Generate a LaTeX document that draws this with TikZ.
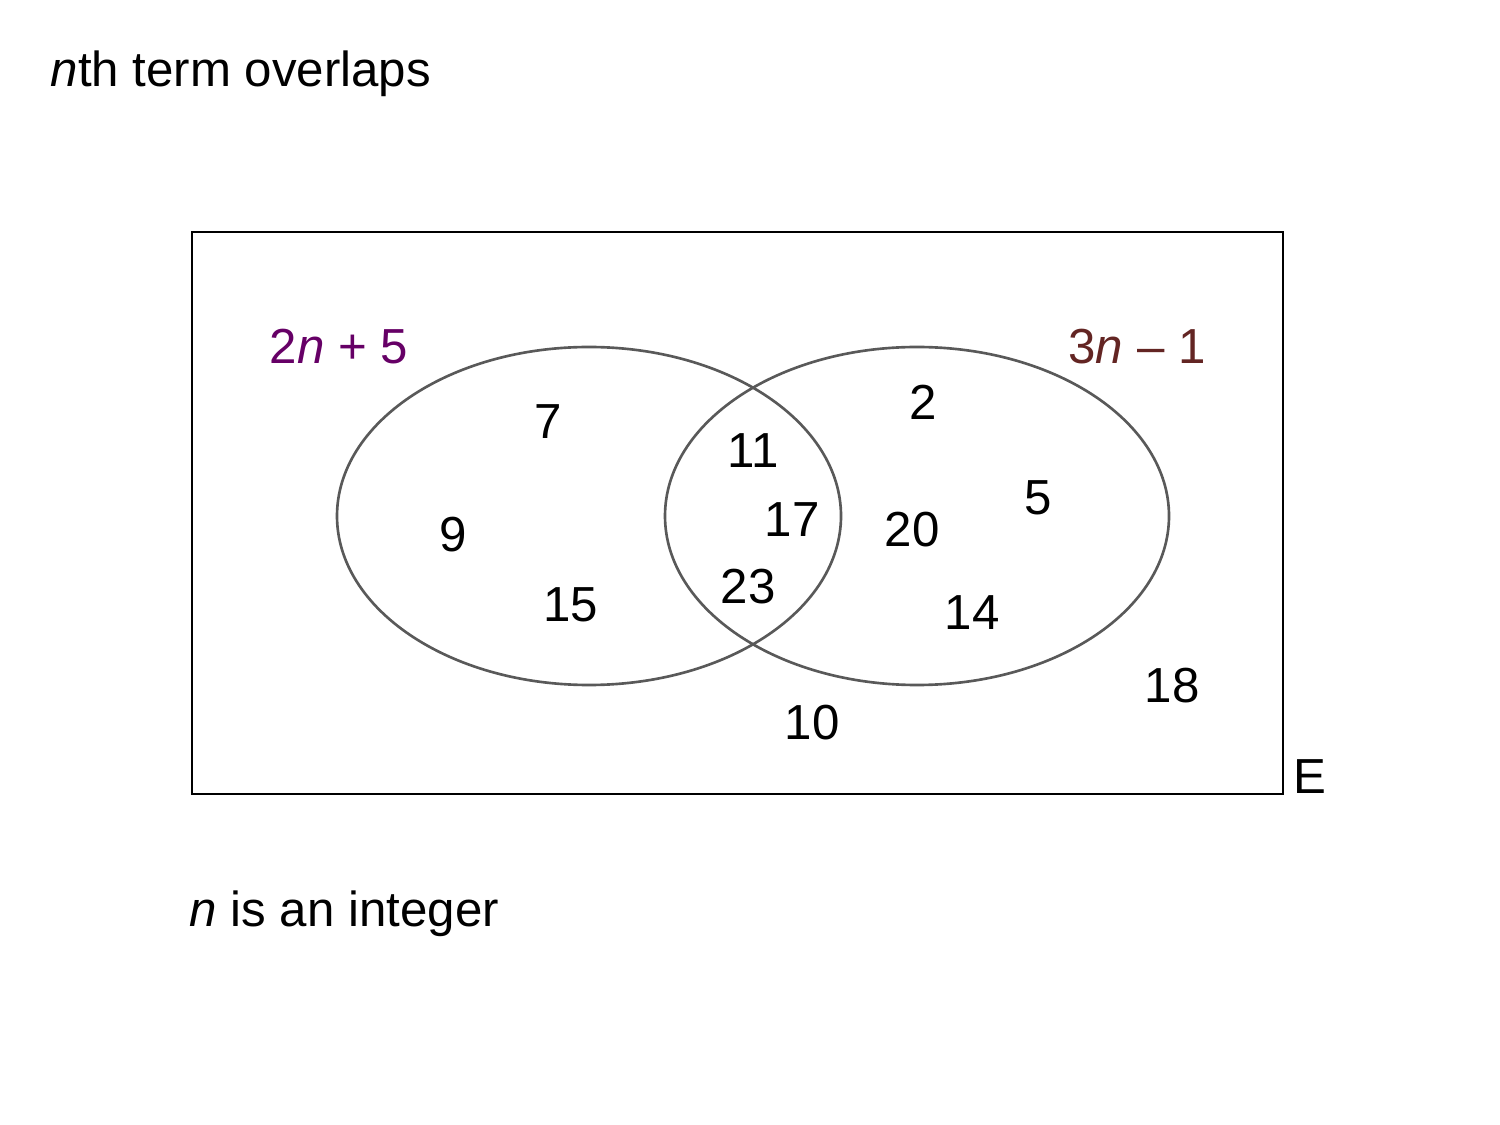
\documentclass[tikz,border=0pt]{standalone}
\usepackage{fontspec}
\setmainfont{Liberation Sans}
\definecolor{setA}{HTML}{660066}
\definecolor{setB}{HTML}{632523}
\definecolor{ring}{HTML}{595959}
\tikzset{num/.style={inner sep=0pt,font=\fontsize{14}{17}\selectfont}}
\begin{document}
\begin{tikzpicture}[x=0.01cm,y=-0.01cm]
            \useasboundingbox (0,0) rectangle (1500,1125);
            \def\ry{169}
            \node[num,anchor=base west] (title) at (50,87) {\textit{n}th term overlaps};
            \draw [line width=0.8pt] (192,232) rectangle (1283,794);
            \draw [ring,line width=0.75pt] (589,516) ellipse [x radius=252,y radius=\ry];
            \draw [ring,line width=0.75pt] (917,516) ellipse [x radius=252,y radius=\ry];%deux ensembles
            \node[num,text=setA] (la) at (339,347) {2\textit{n} + 5};
            \node[num,text=setB] (lb) at (1137,347) {3\textit{n} – 1};
            \node[num] (n7) at (548,422) {7};
            \node[num] (n9) at (453,535) {9};
            \node[num] (n15) at (571,605) {15};
            \node[num] (n11) at (753,451) {11};
            \node[num] (n17) at (792,520) {17};
            \node[num] (n23) at (748,587) {23};
            \node[num] (n2) at (923,402) {2};
            \node[num] (n20) at (912,530) {20};
            \node[num] (n5) at (1038,498) {5};
            \node[num] (n14) at (972,613) {14};
            \node[num] (n18) at (1172,686) {18};
            \node[num] (n10) at (812,723) {10};
            \node[num] (univ) at (1310,777) {E};
            \node[num,anchor=west] (note) at (189,914) {\textit{n} is an integer};
        \end{tikzpicture}
\end{document}
